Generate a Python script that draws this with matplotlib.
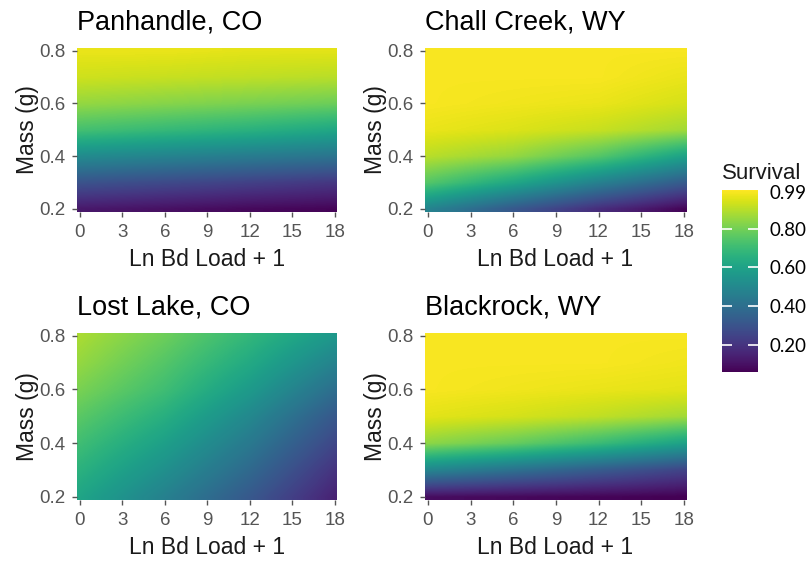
import numpy as np
import matplotlib.pyplot as plt

plt.rcParams['font.family'] = ['Liberation Sans', 'DejaVu Sans']

# grid the surfaces were read on
loads = [0, 6, 12, 18]                              # Ln Bd Load + 1
masses = [0.2, 0.3, 0.4, 0.5, 0.6, 0.7, 0.8]         # Mass (g)

# survival, rows = masses (ascending), cols = loads
panhandle = [
    [0.12, 0.10, 0.08, 0.07],
    [0.30, 0.27, 0.24, 0.21],
    [0.51, 0.48, 0.45, 0.42],
    [0.72, 0.69, 0.66, 0.62],
    [0.85, 0.83, 0.81, 0.79],
    [0.93, 0.92, 0.91, 0.90],
    [0.97, 0.97, 0.96, 0.96],
]
chall_creek = [
    [0.48, 0.32, 0.18, 0.07],
    [0.75, 0.62, 0.47, 0.33],
    [0.90, 0.85, 0.75, 0.60],
    [0.97, 0.95, 0.92, 0.87],
    [0.99, 0.98, 0.97, 0.94],
    [0.99, 0.99, 0.99, 0.97],
    [0.99, 0.99, 0.99, 0.99],
]
lost_lake = [
    [0.61, 0.47, 0.32, 0.15],
    [0.66, 0.53, 0.38, 0.20],
    [0.71, 0.59, 0.44, 0.26],
    [0.76, 0.65, 0.50, 0.32],
    [0.81, 0.71, 0.57, 0.40],
    [0.85, 0.75, 0.63, 0.48],
    [0.88, 0.79, 0.68, 0.56],
]
blackrock = [
    [0.09, 0.08, 0.07, 0.06],
    [0.49, 0.41, 0.33, 0.25],
    [0.84, 0.78, 0.70, 0.60],
    [0.96, 0.94, 0.91, 0.87],
    [0.99, 0.98, 0.97, 0.96],
    [0.99, 0.99, 0.99, 0.98],
    [0.99, 0.99, 0.99, 0.99],
]

titles = ['Panhandle, CO', 'Chall Creek, WY', 'Lost Lake, CO', 'Blackrock, WY']
surfaces = [panhandle, chall_creek, lost_lake, blackrock]
xticks = [0, 3, 6, 9, 12, 15, 18]
yticks = [0.2, 0.4, 0.6, 0.8]
cbar_ticks = [0.2, 0.4, 0.6, 0.8, 0.99]
vmin, vmax = 0.06, 1.0

W, H = 810, 563
fig = plt.figure(figsize=(W / 100, H / 100), dpi=100)

# panel boxes in pixels: left, top, right, bottom
boxes = [(77, 48, 337, 212), (425, 48, 686, 212),
         (77, 333, 337, 500), (425, 333, 686, 500)]

dx = loads[1] - loads[0]
dy = masses[1] - masses[0]
extent = (loads[0] - dx / 2, loads[-1] + dx / 2,
          masses[0] - dy / 2, masses[-1] + dy / 2)

tick_grey = '#555555'
im = None
for (l, t, r, b), title, z in zip(boxes, titles, surfaces):
    ax = fig.add_axes([l / W, 1 - b / H, (r - l) / W, (b - t) / H])
    im = ax.imshow(np.array(z), origin='lower', extent=extent, aspect='auto',
                   cmap='viridis', vmin=vmin, vmax=vmax,
                   interpolation='bilinear', interpolation_stage='data')
    ax.set_xlim(-0.2, 18.15)
    ax.set_ylim(0.188, 0.81)
    ax.set_xticks(xticks)
    ax.set_yticks(yticks)
    ax.set_yticklabels([f'{v:.1f}' for v in yticks])
    for s in ax.spines.values():
        s.set_visible(False)
    ax.tick_params(colors=tick_grey, labelcolor=tick_grey, labelsize=13.5,
                   length=3.5, width=1, pad=5)
    ax.set_xlabel('Ln Bd Load + 1', fontsize=16.5, color='#1a1a1a', labelpad=5)
    ax.set_ylabel('Mass (g)', fontsize=16.5, color='#1a1a1a', labelpad=0)
    ax.set_title(title, loc='left', fontsize=19.5, color='black', pad=13)

# colour bar
cax = fig.add_axes([722 / W, 1 - 372 / H, 36 / W, 182 / H])
cbar = fig.colorbar(im, cax=cax, ticks=cbar_ticks)
cbar.outline.set_visible(False)
cbar.ax.set_yticklabels([f'{v:.2f}' for v in cbar_ticks],
                        fontfamily=['Lato', 'DejaVu Sans'], fontsize=13.5)
cbar.ax.tick_params(direction='in', left=True, right=True, color='white',
                    length=7, width=1.2, pad=8)
top_tick = cbar.ax.yaxis.get_major_ticks()[-1]
top_tick.tick1line.set_visible(False)
top_tick.tick2line.set_visible(False)
cbar.ax.set_title('Survival', loc='left', fontsize=16, color='#1a1a1a', pad=8)

plt.savefig('out.png', dpi=100)
